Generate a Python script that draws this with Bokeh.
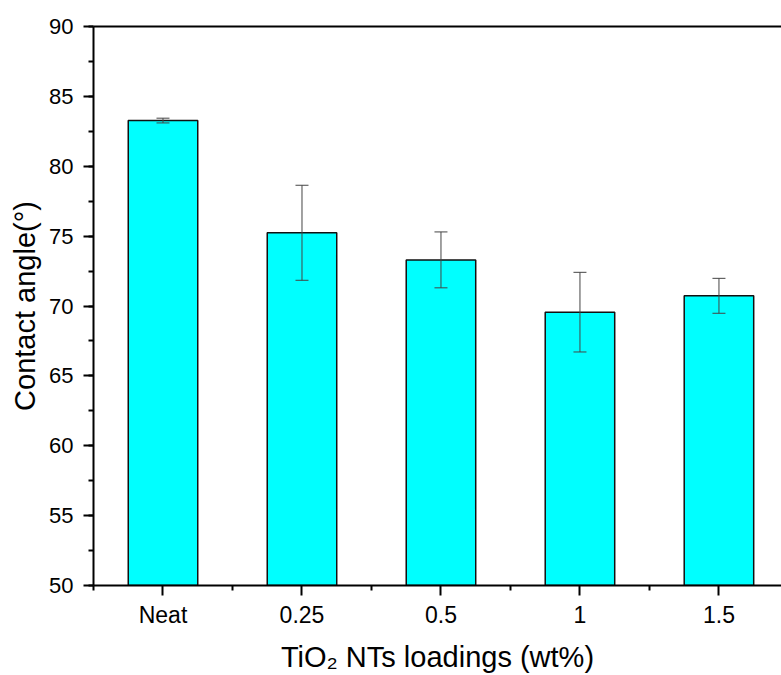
from bokeh.plotting import figure
from bokeh.models import (Range1d, LinearAxis, FixedTicker, SingleIntervalTicker,
                          ColumnDataSource, Whisker, TeeHead)
from bokeh.embed import file_html
from bokeh.resources import INLINE

categories = ["Neat", "0.25", "0.5", "1", "1.5"]
contact_angle = [83.27, 75.24, 73.30, 69.56, 70.73]
std_dev = [0.17, 3.40, 2.00, 2.85, 1.25]

x_pos = [i + 1 for i in range(len(categories))]
lower = [v - e for v, e in zip(contact_angle, std_dev)]
upper = [v + e for v, e in zip(contact_angle, std_dev)]

src = ColumnDataSource(dict(x=x_pos, top=contact_angle, lower=lower, upper=upper))

FONT = "Liberation Sans"

p = figure(width=781, height=675, output_backend="svg", toolbar_location=None,
           x_range=Range1d(0.5, 5.45), y_range=Range1d(50, 90),
           min_border_left=93, min_border_right=0, min_border_top=26,
           min_border_bottom=90, background_fill_color="white",
           border_fill_color="white")
p.outline_line_color = None
p.xgrid.visible = False
p.ygrid.visible = False

p.vbar(x="x", top="top", bottom=50, width=0.5, source=src,
       fill_color="#00FFFF", line_color="#111111", line_width=1.5)

w = Whisker(base="x", lower="lower", upper="upper", source=src,
            line_color="#444444", line_width=1, level="overlay",
            upper_head=TeeHead(size=13, line_color="#444444", line_width=1),
            lower_head=TeeHead(size=13, line_color="#444444", line_width=1))
p.add_layout(w)

# x axis
xa = p.xaxis[0]
xa.ticker = FixedTicker(ticks=x_pos, minor_ticks=[0.5 + i for i in range(6)])
xa.major_label_overrides = {x_pos[i]: categories[i] for i in range(len(categories))}
xa.axis_label = "TiO\u2082 NTs loadings (wt%)"

# y axis
ya = p.yaxis[0]
ya.ticker = SingleIntervalTicker(interval=5, num_minor_ticks=2)
ya.axis_label = "Contact angle(\u00b0)"

for ax in (xa, ya):
    ax.axis_line_width = 2
    ax.axis_line_color = "black"
    ax.major_tick_line_width = 2
    ax.minor_tick_line_width = 2
    ax.major_tick_out = 10
    ax.major_tick_in = 0
    ax.minor_tick_out = 5
    ax.minor_tick_in = 0
    ax.major_label_text_font = FONT
    ax.major_label_text_font_size = "22px"
    ax.major_label_text_color = "black"
    ax.axis_label_text_font = FONT
    ax.axis_label_text_font_size = "29px"
    ax.axis_label_text_font_style = "normal"
    ax.axis_label_text_color = "black"

xa.major_label_text_font_size = "23px"
xa.major_label_standoff = 6
xa.axis_label_standoff = 10
ya.major_label_standoff = 10
ya.axis_label_standoff = 5

top_axis = LinearAxis(ticker=FixedTicker(ticks=[]), axis_line_width=2,
                      axis_line_color="black", major_label_text_font_size="0px",
                      major_tick_out=0, minor_tick_out=0)
p.add_layout(top_axis, "above")

open("out.html", "w").write(file_html(p, INLINE))
